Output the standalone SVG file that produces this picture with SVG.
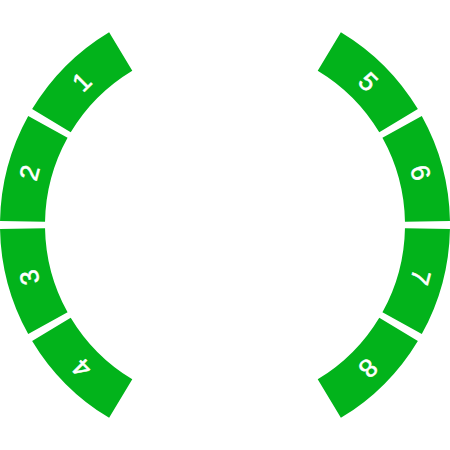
<svg xmlns="http://www.w3.org/2000/svg" width="450" height="450" viewBox="0 0 450 450">
<style>
.seg{fill:#02b31b;stroke:none}
.lbl{fill:#ffffff;stroke:#ffffff;stroke-width:0.6;font-family:"Liberation Sans",Arial,sans-serif;font-size:26px;text-anchor:middle;dominant-baseline:central}
</style>
<rect width="450" height="450" fill="#ffffff"/>
<g id="segment-1"><path class="seg" d="M32.14,109.12 A225,225 0 0 1 109.12,32.14 L132.29,70.71 A180,180 0 0 0 70.71,132.29 Z"/><text class="lbl" transform="translate(81.81,81.81) rotate(-45)">1</text></g>
<g id="segment-2"><path class="seg" d="M0.03,221.07 A225,225 0 0 1 28.21,115.92 L67.57,137.73 A180,180 0 0 0 45.03,221.86 Z"/><text class="lbl" transform="translate(29.4,172.59) rotate(-75)">2</text></g>
<g id="segment-3"><path class="seg" d="M28.21,334.08 A225,225 0 0 1 0.03,228.93 L45.03,228.14 A180,180 0 0 0 67.57,312.27 Z"/><text class="lbl" transform="translate(29.4,277.41) rotate(-105)">3</text></g>
<g id="segment-4"><path class="seg" d="M109.12,417.86 A225,225 0 0 1 32.14,340.88 L70.71,317.71 A180,180 0 0 0 132.29,379.29 Z"/><text class="lbl" transform="translate(81.81,368.19) rotate(-135)">4</text></g>
<g id="segment-5"><path class="seg" d="M340.88,32.14 A225,225 0 0 1 417.86,109.12 L379.29,132.29 A180,180 0 0 0 317.71,70.71 Z"/><text class="lbl" transform="translate(368.19,81.81) rotate(45)">5</text></g>
<g id="segment-6"><path class="seg" d="M421.79,115.92 A225,225 0 0 1 449.97,221.07 L404.97,221.86 A180,180 0 0 0 382.43,137.73 Z"/><text class="lbl" transform="translate(420.6,172.59) rotate(75)">6</text></g>
<g id="segment-7"><path class="seg" d="M449.97,228.93 A225,225 0 0 1 421.79,334.08 L382.43,312.27 A180,180 0 0 0 404.97,228.14 Z"/><text class="lbl" transform="translate(420.6,277.41) rotate(105)">7</text></g>
<g id="segment-8"><path class="seg" d="M417.86,340.88 A225,225 0 0 1 340.88,417.86 L317.71,379.29 A180,180 0 0 0 379.29,317.71 Z"/><text class="lbl" transform="translate(368.19,368.19) rotate(135)">8</text></g>
<g id="connectors"></g>
</svg>
